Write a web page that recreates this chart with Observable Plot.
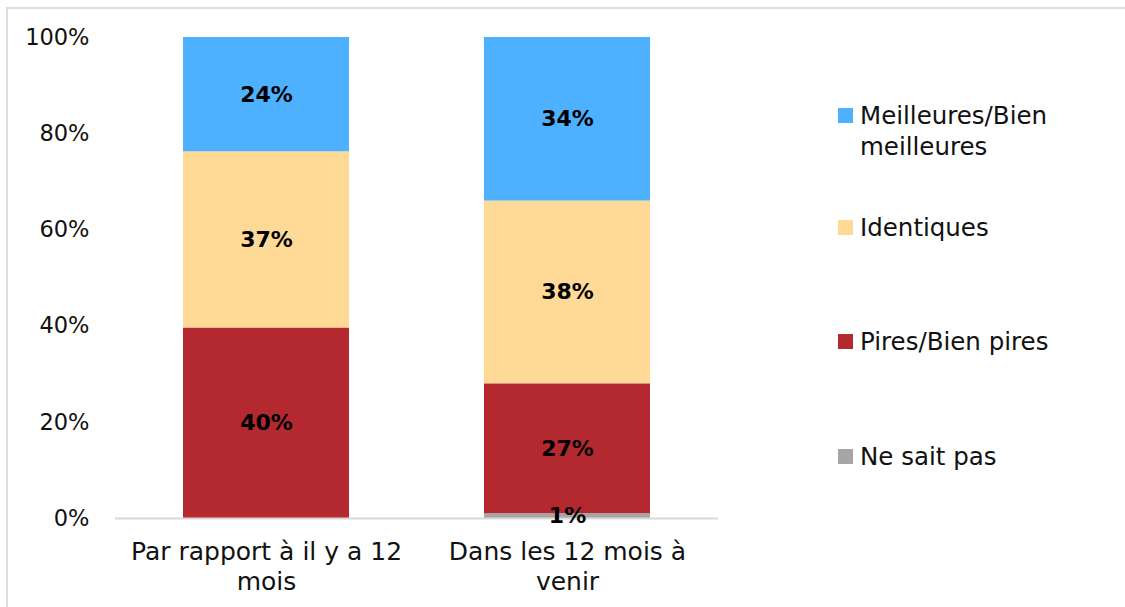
<!DOCTYPE html>
<html>
<head>
<meta charset="utf-8">
<script src="https://cdn.jsdelivr.net/npm/d3@7"></script>
<script src="https://cdn.jsdelivr.net/npm/@observablehq/plot@0.6"></script>
<style>
  html, body { margin: 0; padding: 0; background: #fff; overflow: hidden; }
  body { width: 1125px; height: 607px; position: relative; font-family: "DejaVu Sans", sans-serif; }
  #frame { position: absolute; left: 6px; top: 7px; width: 1200px; height: 700px; border: 2px solid #DDDDDD; box-sizing: border-box; }
  #chart { position: absolute; left: 0; top: 0; }
  #legend { position: absolute; left: 838px; top: 0; width: 285px; height: 607px; }
  .item { position: absolute; left: 0; display: flex; align-items: flex-start; font-size: 24.5px; line-height: 31px; color: #111; white-space: nowrap; }
  .sw { width: 15px; height: 15px; margin-top: 8px; margin-right: 7px; flex: none; }
</style>
</head>
<body>
<div id="frame"></div>
<div id="chart"></div>
<div id="legend"></div>
<script>
// ---- data ----
const categories = ["Par rapport à il y a 12 mois", "Dans les 12 mois à venir"];
const tickLabels = ["Par rapport à il y a 12\nmois", "Dans les 12 mois à\nvenir"];
const seriesNames = ["Ne sait pas", "Pires/Bien pires", "Identiques", "Meilleures/Bien meilleures"];
const seriesColors = ["#A6A6A6", "#B3292F", "#FFDA97", "#4DB1FF"];
const neSaitPas = [0, 1];
const pires = [40, 27];
const identiques = [37, 38];
const meilleures = [24, 34];
const yTicks = [0, 0.2, 0.4, 0.6, 0.8, 1];

const seriesValues = [neSaitPas, pires, identiques, meilleures];
const rows = [];
seriesNames.forEach((s, i) => {
  categories.forEach((c, j) => {
    rows.push({category: c, series: s, value: seriesValues[i][j]});
  });
});

const font = "DejaVu Sans, sans-serif";

const plot = Plot.plot({
  width: 740,
  height: 607,
  marginLeft: 115,
  marginRight: 22,
  marginTop: 37,
  marginBottom: 89,
  style: {fontFamily: font, fontSize: "22px", color: "#111", background: "transparent"},
  x: {domain: categories, paddingInner: 0.447, paddingOuter: 0.2235, label: null},
  y: {domain: [0, 1], label: null},
  color: {domain: seriesNames, range: seriesColors},
  marks: [
    Plot.barY(rows, Plot.stackY({
      x: "category", y: "value", fill: "series", z: "series",
      order: seriesNames, offset: "normalize"
    })),
    Plot.ruleY([0], {stroke: "#D9D9D9", strokeWidth: 2}),
    Plot.text(rows, Plot.stackY({
      x: "category", y: "value", z: "series",
      order: seriesNames, offset: "normalize",
      text: d => d.value > 0 ? d.value + "%" : "",
      fontWeight: "bold", fontSize: 22, fill: "#000"
    })),
    Plot.axisY({ticks: yTicks, tickFormat: d => Math.round(d * 100) + "%", tickSize: 0, tickPadding: 26, fontSize: 22.5}),
    Plot.axisX({tickSize: 0, tickPadding: 20, fontSize: 25, lineHeight: 1.2,
      tickFormat: d => tickLabels[categories.indexOf(d)]})
  ]
});
document.getElementById("chart").appendChild(plot);

// legend (top to bottom reversed order, as in the reference)
const legendTops = [100, 212, 326, 441];
const legend = document.getElementById("legend");
const order = [3, 2, 1, 0];
const legendText = ["Ne sait pas", "Pires/Bien pires", "Identiques", "Meilleures/Bien<br>meilleures"];
order.forEach((si, k) => {
  const it = document.createElement("div");
  it.className = "item";
  it.style.top = legendTops[k] + "px";
  it.style.fontFamily = font;
  it.innerHTML = `<div class="sw" style="background:${seriesColors[si]}"></div><div>${legendText[si]}</div>`;
  legend.appendChild(it);
});
</script>
</body>
</html>
